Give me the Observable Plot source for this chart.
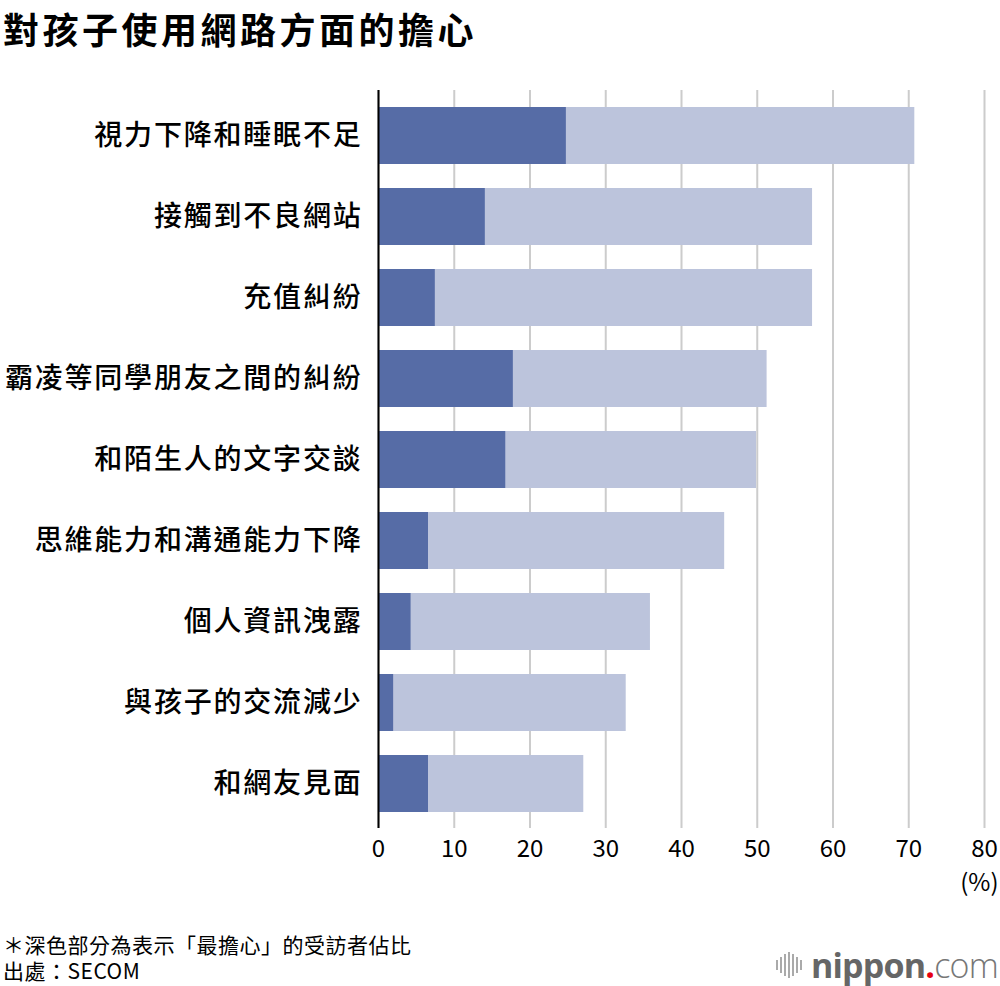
<!DOCTYPE html>
<html>
<head>
<meta charset="utf-8">
<script src="https://cdn.jsdelivr.net/npm/d3@7"></script>
<script src="https://cdn.jsdelivr.net/npm/@observablehq/plot@0.6"></script>
<style>
  html, body { margin: 0; padding: 0; background: #fff; }
  body { width: 1000px; height: 986px; position: relative; overflow: hidden;
         font-family: "Noto Sans CJK TC", "Noto Sans", sans-serif; color: #000; }
  #title { position: absolute; left: 3px; top: 7px; font-size: 36px; font-weight: 700;
           line-height: 42px; letter-spacing: 3.5px; white-space: nowrap; }
  #chart { position: absolute; left: 0; top: 60px; }
  #chart svg [aria-label="y-axis tick label"] text { letter-spacing: 1.8px; font-weight: 500; }
  .note { position: absolute; left: 3px; font-size: 21px; line-height: 24px; white-space: nowrap; letter-spacing: 0.5px; }
  #logo { position: absolute; right: 2px; top: 945px; height: 40px; display: flex; align-items: center; }
  #logo .icon { display: flex; align-items: center; gap: 2px; margin-right: 9px; }
  #logo .icon span { display: block; width: 2px; background: #aaa; }
  #logo .name { font-family: "Open Sans", "Noto Sans", sans-serif; font-size: 34px; line-height: 40px; color: #666; letter-spacing: -0.8px; }
  #logo .name b { font-weight: 700; }
  #logo .name i { font-style: normal; color: #e60012; font-weight: 700; }
  #logo .name em { font-style: normal; font-weight: 300; color: #777; }
</style>
</head>
<body>
<div id="title">對孩子使用網路方面的擔心</div>
<div id="chart"></div>
<div class="note" style="top:932px">＊深色部分為表示「最擔心」的受訪者佔比</div>
<div class="note" style="top:958px">出處：SECOM</div>
<div id="logo">
  <div class="icon"><span style="height:10px"></span><span style="height:16px"></span><span style="height:22px"></span><span style="height:26px"></span><span style="height:22px"></span><span style="height:16px"></span><span style="height:10px"></span></div>
  <div class="name"><b>nippon</b><i>.</i><em>com</em></div>
</div>
<script>
const categories = [
  "視力下降和睡眠不足",
  "接觸到不良網站",
  "充值糾紛",
  "霸凌等同學朋友之間的糾紛",
  "和陌生人的文字交談",
  "思維能力和溝通能力下降",
  "個人資訊洩露",
  "與孩子的交流減少",
  "和網友見面"
];
const mostWorried = [24.8, 14.1, 7.5, 17.8, 16.8, 6.6, 4.3, 2.0, 6.6];
const totalWorried = [70.8, 57.3, 57.3, 51.3, 49.9, 45.7, 35.9, 32.7, 27.1];
const xTicks = [0, 10, 20, 30, 40, 50, 60, 70, 80];

const data = categories.map((c, i) => ({cat: c, dark: mostWorried[i], total: totalWorried[i]}));

const chart = Plot.plot({
  width: 1000,
  height: 840,
  marginLeft: 378,
  marginRight: 16,
  marginTop: 30,
  marginBottom: 72,
  style: {fontFamily: '"Noto Sans CJK TC", "Noto Sans", sans-serif', color: "#000", background: "transparent"},
  x: {domain: [0, 80]},
  y: {domain: categories, paddingInner: 0.3, paddingOuter: 0.18},
  marks: [
    Plot.gridX(xTicks, {stroke: "#cccccc", strokeWidth: 2, strokeOpacity: 1}),
    Plot.barX(data, {y: "cat", x1: 0, x2: "total", fill: "#bcc4dc"}),
    Plot.barX(data, {y: "cat", x1: 0, x2: "dark", fill: "#566ca6"}),
    Plot.ruleX([0], {stroke: "#000", strokeWidth: 2}),
    Plot.axisX({ticks: xTicks, tickSize: 0, tickPadding: 11, fontSize: 24, label: null, fill: "#000"}),
    Plot.axisY({tickSize: 0, tickPadding: 16, fontSize: 28, label: null, fill: "#000"}),
    Plot.text(["(%)"], {frameAnchor: "bottom-right", dx: 14, dy: 62, fontSize: 24, fill: "#000", textAnchor: "end"})
  ]
});
document.getElementById("chart").appendChild(chart);
</script>
</body>
</html>
